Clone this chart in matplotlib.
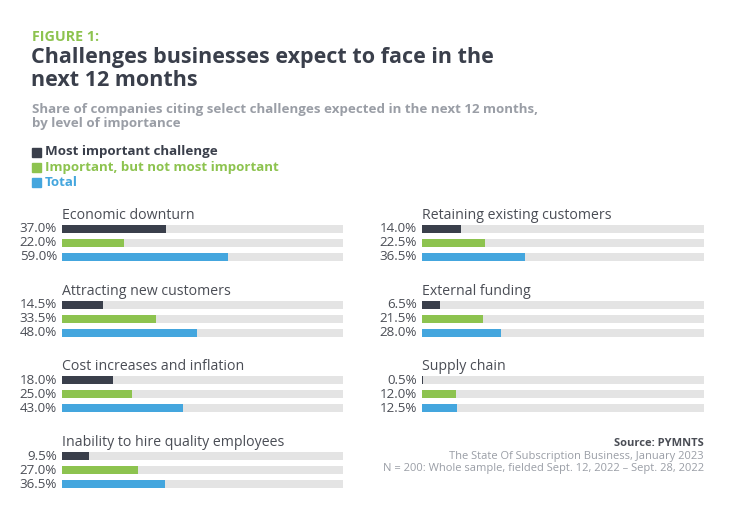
import matplotlib
matplotlib.use("Agg")
import matplotlib.pyplot as plt
from matplotlib.patches import Rectangle

categories_left = ["Economic downturn", "Attracting new customers",
                   "Cost increases and inflation", "Inability to hire quality employees"]
most_left = [37.0, 14.5, 18.0, 9.5]
important_left = [22.0, 33.5, 25.0, 27.0]
total_left = [59.0, 48.0, 43.0, 36.5]

categories_right = ["Retaining existing customers", "External funding", "Supply chain"]
most_right = [14.0, 6.5, 0.5]
important_right = [22.5, 21.5, 12.0]
total_right = [36.5, 28.0, 12.5]

series_names = ["Most important challenge", "Important, but not most important", "Total"]

DARK = "#3a3f4b"
GREEN = "#8dc34f"
BLUE = "#44a6de"
TRACK = "#e4e4e4"
GRAY = "#9a9ea6"
TXT = "#4a4d55"
colors = [DARK, GREEN, BLUE]

W, H = 741, 512
fig = plt.figure(figsize=(W / 100, H / 100), dpi=100)
plt.rcParams['font.family'] = ['Open Sans', 'DejaVu Sans']


def fx(px):
    return px / W


def fy(py):
    return 1 - py / H


fig.text(fx(32), fy(37), "FIGURE 1:", color=GREEN, fontsize=10.3, fontweight="bold",
         va="center", ha="left")
fig.text(fx(31), fy(58), "Challenges businesses expect to face in the", color=DARK,
         fontsize=15.5, fontweight="bold", va="center", ha="left")
fig.text(fx(31), fy(80), "next 12 months", color=DARK,
         fontsize=15.5, fontweight="bold", va="center", ha="left")
fig.text(fx(32), fy(109), "Share of companies citing select challenges expected in the next 12 months,",
         color=GRAY, fontsize=9.6, fontweight="bold", va="center", ha="left")
fig.text(fx(32), fy(124), "by level of importance",
         color=GRAY, fontsize=9.6, fontweight="bold", va="center", ha="left")

for i, (name, c) in enumerate(zip(series_names, colors)):
    y = 152 + i * 15
    fig.patches.append(Rectangle((fx(32), fy(y + 4.5)), fx(9), 9 / H, color=c,
                                 transform=fig.transFigure, figure=fig))
    fig.text(fx(45), fy(y), name, color=c, fontsize=9.6, fontweight="bold",
             va="center", ha="left")


def draw_group(x0, x1, ytop, title, vals):
    ax = fig.add_axes([fx(x0), fy(ytop + 42), (x1 - x0) / W, 42 / H])
    ypos = [0, 1, 2]
    ax.barh(ypos, [100] * 3, height=8 / 14, color=TRACK, left=0)
    ax.barh(ypos, vals, height=8 / 14, color=colors)
    ax.set_xlim(0, 100)
    ax.set_ylim(2.5, -0.5)
    ax.axis("off")
    for y, v in zip(ypos, vals):
        ax.text(-1.8, y, f"{v:.1f}%", ha="right", va="center", color=TXT, fontsize=9.6)
    ax.text(0, -0.95, title, ha="left", va="center", color=TXT, fontsize=10.2)


group_tops = [222, 298, 373, 449]
for i, cat in enumerate(categories_left):
    draw_group(62, 343, group_tops[i], cat, [most_left[i], important_left[i], total_left[i]])
for i, cat in enumerate(categories_right):
    draw_group(422, 704, group_tops[i], cat, [most_right[i], important_right[i], total_right[i]])

fig.text(fx(704), fy(443), "Source: PYMNTS", color=TXT, fontsize=8, fontweight="bold",
         ha="right", va="center")
fig.text(fx(704), fy(456), "The State Of Subscription Business, January 2023", color=GRAY,
         fontsize=8, ha="right", va="center")
fig.text(fx(704), fy(469), "N = 200: Whole sample, fielded Sept. 12, 2022 \u2013 Sept. 28, 2022",
         color=GRAY, fontsize=8, ha="right", va="center")

fig.savefig("out.png", dpi=100, facecolor="white")
